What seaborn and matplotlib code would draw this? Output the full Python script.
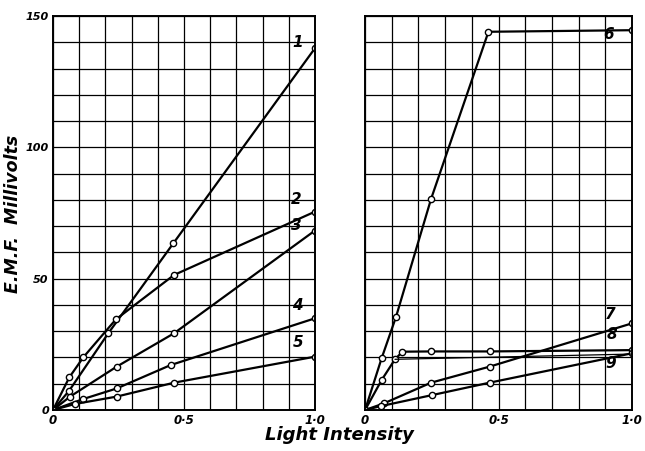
import numpy as np
import pandas as pd
import matplotlib
matplotlib.use("Agg")
import matplotlib.pyplot as plt
import seaborn as sns

# light intensity vs e.m.f. (millivolts)
c1_x = [0.0, 0.062, 0.211, 0.459, 1.0]
c1_y = [0.0, 7.4, 29.2, 63.4, 137.7]
c2_x = [0.0, 0.062, 0.116, 0.240, 0.462, 1.0]
c2_y = [0.0, 12.4, 20.1, 34.5, 51.4, 75.5]
c3_x = [0.0, 0.065, 0.243, 0.462, 1.0]
c3_y = [0.0, 5.1, 16.5, 29.2, 68.3]
c4_x = [0.0, 0.116, 0.243, 0.449, 1.0]
c4_y = [0.0, 4.2, 8.2, 17.1, 34.9]
c5_x = [0.0, 0.084, 0.243, 0.462, 1.0]
c5_y = [0.0, 2.3, 5.1, 10.4, 20.3]

c6_x = [0.0, 0.062, 0.116, 0.247, 0.462, 1.0]
c6_y = [0.0, 19.7, 35.5, 80.3, 144.0, 144.6]
c7_x = [0.0, 0.070, 0.247, 0.466, 1.0]
c7_y = [0.0, 2.5, 10.4, 16.5, 33.0]
c8_x = [0.0, 0.062, 0.112, 0.140, 0.247, 0.466, 1.0]
c8_y = [0.0, 11.4, 19.3, 22.2, 22.3, 22.3, 22.8]
c8b_x = [0.112, 1.0]
c8b_y = [19.3, 21.3]
c9_x = [0.0, 0.060, 0.252, 0.466, 1.0]
c9_y = [0.0, 1.5, 5.7, 10.4, 21.6]

left_curves = {"1": (c1_x, c1_y), "2": (c2_x, c2_y), "3": (c3_x, c3_y),
               "4": (c4_x, c4_y), "5": (c5_x, c5_y)}
right_curves = {"6": (c6_x, c6_y), "7": (c7_x, c7_y), "8": (c8_x, c8_y),
                "9": (c9_x, c9_y)}

# where the hand-written curve numbers sit
left_label_pos = {"1": (0.954, 137), "2": (0.949, 77.4), "3": (0.949, 67.3),
                  "4": (0.953, 36.8), "5": (0.955, 22.8)}
right_label_pos = {"6": (0.930, 140), "7": (0.936, 33.6), "8": (0.943, 26.0),
                   "9": (0.940, 15.0)}

x_tick_vals = [0.0, 0.5, 1.0]
x_tick_text = ["0", "0·5", "1·0"]
y_tick_vals = [0, 50, 100, 150]
y_tick_text = ["0", "50", "100", "150"]

sns.set_theme(style="white")
plt.rcParams["font.family"] = ["DejaVu Sans"]
font = dict(fontstyle="italic", fontweight="bold", color="black")

fig = plt.figure(figsize=(6.45, 4.51), dpi=100)
ax_l = fig.add_axes([0.0822, 0.0909, 0.406, 0.8736])
ax_r = fig.add_axes([0.566, 0.0909, 0.414, 0.8736])


def draw_panel(ax, curves, label_pos):
    for name, (xs, ys) in curves.items():
        df = pd.DataFrame({"x": xs, "y": ys})
        sns.lineplot(data=df, x="x", y="y", ax=ax, color="black", lw=1.6,
                     marker="o", markersize=4.5, markerfacecolor="white",
                     markeredgecolor="black", markeredgewidth=1.0,
                     estimator=None, sort=False)
        tx, ty = label_pos[name]
        ax.text(tx, ty, name, ha="right", va="bottom", fontsize=11, **font)
    ax.set_xlim(0, 1)
    ax.set_ylim(0, 150)
    ax.set_xticks(np.linspace(0, 1, 11))
    ax.set_yticks(np.arange(0, 151, 10))
    ax.grid(True, color="black", lw=0.9)
    ax.tick_params(length=0, pad=3)
    ax.set_xlabel("")
    ax.set_ylabel("")
    for sp in ax.spines.values():
        sp.set_color("black")
        sp.set_linewidth(1.4)
    xl = [x_tick_text[x_tick_vals.index(round(v, 1))] if round(v, 1) in x_tick_vals else ""
          for v in ax.get_xticks()]
    ax.set_xticklabels(xl, fontsize=8.5, **font)


draw_panel(ax_l, left_curves, left_label_pos)
draw_panel(ax_r, right_curves, right_label_pos)

df8b = pd.DataFrame({"x": c8b_x, "y": c8b_y})
sns.lineplot(data=df8b, x="x", y="y", ax=ax_r, color="black", lw=0.9,
             estimator=None, sort=False)
ax_r.set_xlabel("")
ax_r.set_ylabel("")

yl = [y_tick_text[y_tick_vals.index(int(v))] if int(v) in y_tick_vals else ""
      for v in ax_l.get_yticks()]
ax_l.set_yticklabels(yl, fontsize=8, **font)
ax_r.set_yticklabels([])

fig.text(0.527, 0.035, "Light Intensity", ha="center", va="center", fontsize=13, **font)
fig.text(0.02, 0.525, "E.M.F.  Millivolts", ha="center", va="center",
         rotation=90, fontsize=12.5, **font)

fig.savefig("out.png", dpi=100, facecolor="white")
